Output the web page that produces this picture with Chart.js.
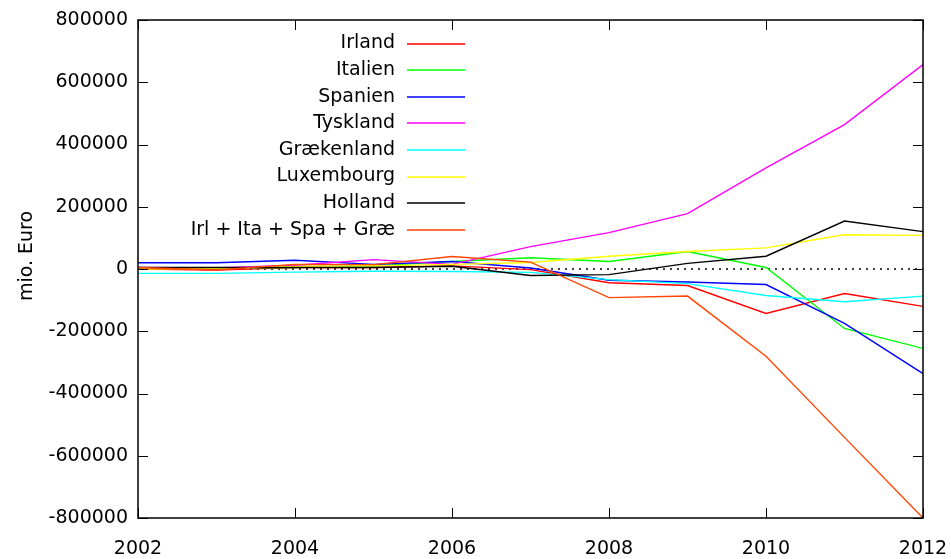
<!DOCTYPE html>
<html>
<head>
<meta charset="utf-8">
<script src="https://cdn.jsdelivr.net/npm/chart.js@4/dist/chart.umd.min.js"></script>
<style>
  html, body { margin: 0; padding: 0; background: #fff; }
  #wrap { width: 951px; height: 559px; }
</style>
</head>
<body>
<div id="wrap"><canvas id="chart"></canvas></div>
<script>
var years = [2002, 2003, 2004, 2005, 2006, 2007, 2008, 2009, 2010, 2011, 2012];

var irland      = [0, -3000, 5000, 5000, 10000, -2000, -44000, -53000, -143000, -79000, -120000];
var italien     = [3000, 3000, 5000, 10000, 24000, 36000, 24000, 56000, 5000, -191000, -255000];
var spanien     = [20000, 20000, 28000, 15000, 24000, 3000, -36000, -42000, -50000, -175000, -336000];
var tyskland    = [5000, 3000, 12000, 30000, 15000, 72000, 117000, 178000, 325000, 464000, 657000];
var graekenland = [-14000, -14000, -10000, -7000, -8000, -11000, -34000, -47000, -85000, -105000, -87000];
var luxembourg  = [0, 2000, 8000, 10000, 15000, 21000, 41000, 56000, 68000, 110000, 108000];
var holland     = [5000, 5000, 5000, 5000, 9000, -21000, -18000, 18000, 41000, 154000, 120000];
var irlItaSpaGrae = [5000, -3000, 15000, 14000, 40000, 22000, -92000, -87000, -280000, -541000, -800000];
var zeroLine    = [0, 0];

var labels = ['Irland', 'Italien', 'Spanien', 'Tyskland', 'Grækenland', 'Luxembourg', 'Holland', 'Irl + Ita + Spa + Græ'];
var colors = ['#ff0000', '#00ff00', '#0000ff', '#ff00ff', '#00ffff', '#ffff00', '#000000', '#ff4500'];
var series = [irland, italien, spanien, tyskland, graekenland, luxembourg, holland, irlItaSpaGrae];
var yTicks = [-800000, -600000, -400000, -200000, 0, 200000, 400000, 600000, 800000];
var xTicks = [2002, 2004, 2006, 2008, 2010, 2012];
var yTitle = 'mio. Euro';

function toPoints(vals) {
    return vals.map(function(v, i) { return {x: years[i], y: v}; });
}

var datasets = [{
    label: '',
    data: [{x: years[0], y: zeroLine[0]}, {x: years[years.length - 1], y: zeroLine[1]}],
    borderColor: '#000000',
    borderWidth: 1.3,
    borderDash: [2, 5],
    pointRadius: 0,
    order: 20
}];
series.forEach(function(s, i) {
    datasets.push({
        label: labels[i],
        data: toPoints(s),
        borderColor: colors[i],
        borderWidth: 1.4,
        pointRadius: 0,
        tension: 0,
        order: 10 - i
    });
});

// gnuplot style frame, inward ticks, y title and legend
var gnuFrame = {
    id: 'gnuFrame',
    afterDatasetsDraw: function(chart) {
        var ctx = chart.ctx, a = chart.chartArea;
        var xs = chart.scales.x, ys = chart.scales.y;
        ctx.save();
        ctx.strokeStyle = '#000';
        ctx.lineWidth = 1;
        xTicks.forEach(function(t) {
            var px = Math.round(xs.getPixelForValue(t)) + 0.5;
            ctx.beginPath();
            ctx.moveTo(px, a.bottom); ctx.lineTo(px, a.bottom - 10);
            ctx.moveTo(px, a.top); ctx.lineTo(px, a.top + 10);
            ctx.stroke();
        });
        yTicks.forEach(function(t) {
            var py = Math.round(ys.getPixelForValue(t)) + 0.5;
            ctx.beginPath();
            ctx.moveTo(a.left, py); ctx.lineTo(a.left + 10, py);
            ctx.moveTo(a.right, py); ctx.lineTo(a.right - 10, py);
            ctx.stroke();
        });
        ctx.lineWidth = 1.5;
        ctx.strokeRect(a.left, a.top, a.right - a.left, a.bottom - a.top);

        ctx.font = '19px "DejaVu Sans"';
        ctx.fillStyle = '#000';

        // y axis title
        ctx.save();
        ctx.translate(27, 256);
        ctx.rotate(-Math.PI / 2);
        ctx.textAlign = 'center';
        ctx.textBaseline = 'middle';
        ctx.fillText(yTitle, 0, 0);
        ctx.restore();

        // legend
        ctx.textAlign = 'right';
        ctx.textBaseline = 'middle';
        var row = 0;
        chart.data.datasets.forEach(function(ds) {
            if (!ds.label) return;
            var y = 43.5 + row * 26.6;
            ctx.fillStyle = '#000';
            ctx.fillText(ds.label, 395, y);
            ctx.strokeStyle = ds.borderColor;
            ctx.lineWidth = 1.5;
            ctx.beginPath();
            ctx.moveTo(407, Math.round(y));
            ctx.lineTo(465, Math.round(y));
            ctx.stroke();
            row++;
        });
        ctx.restore();
    }
};

var ctx = document.getElementById('chart');
var chart = new Chart(ctx, {
    type: 'line',
    data: { datasets: datasets },
    options: {
        responsive: true,
        maintainAspectRatio: false,
        animation: false,
        layout: { padding: { top: 20, right: 28, left: 0, bottom: 0 } },
        plugins: {
            legend: { display: false },
            tooltip: { enabled: false }
        },
        scales: {
            x: {
                type: 'linear',
                min: 2002,
                max: 2012,
                afterFit: function(scale) {
                    scale.height = 41;
                    scale.paddingLeft = 0;
                    scale.paddingRight = 0;
                },
                afterBuildTicks: function(scale) {
                    scale.ticks = xTicks.map(function(v) { return {value: v}; });
                },
                grid: { display: false, drawTicks: false },
                border: { display: false },
                ticks: {
                    color: '#000',
                    padding: 20,
                    maxRotation: 0,
                    font: { family: 'DejaVu Sans', size: 19 },
                    callback: function(v) { return String(v); }
                }
            },
            y: {
                min: -800000,
                max: 800000,
                afterFit: function(scale) {
                    scale.width = 138;
                    scale.paddingTop = 0;
                    scale.paddingBottom = 0;
                },
                afterBuildTicks: function(scale) {
                    scale.ticks = yTicks.map(function(v) { return {value: v}; });
                },
                grid: { display: false, drawTicks: false },
                border: { display: false },
                ticks: {
                    color: '#000',
                    padding: 10,
                    font: { family: 'DejaVu Sans', size: 19 },
                    callback: function(v) { return String(v); }
                }
            }
        }
    },
    plugins: [gnuFrame]
});
</script>
</body>
</html>
